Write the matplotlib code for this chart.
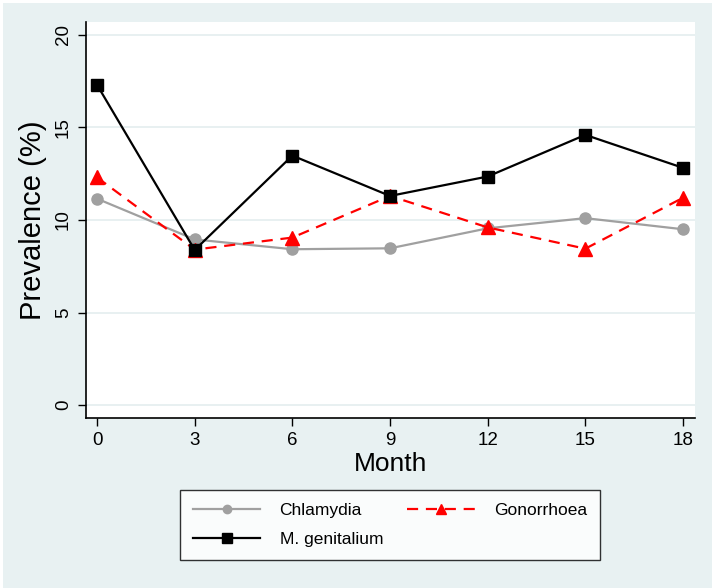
import numpy as np
import matplotlib.pyplot as plt
from matplotlib.patches import Rectangle

months = [0, 3, 6, 9, 12, 15, 18]
chlamydia = [11.15, 8.95, 8.42, 8.47, 9.55, 10.1, 9.5]
gonorrhoea = [12.3, 8.4, 9.05, 11.3, 9.6, 8.45, 11.2]
mgenitalium = [17.3, 8.38, 13.48, 11.3, 12.35, 14.6, 12.82]
yticks = [0, 5, 10, 15, 20]

plt.rcParams['font.family'] = ['Liberation Sans', 'DejaVu Sans']

bg = '#e8f1f2'
fig = plt.figure(figsize=(7.15, 5.88), dpi=100, facecolor='white')
fig.patches.append(Rectangle((3 / 715, 0), 709 / 715, 585 / 588, transform=fig.transFigure,
                             facecolor=bg, edgecolor='none', zorder=-10))

ax = fig.add_axes([86 / 715, 1 - 418 / 588, 609 / 715, 396 / 588])
ax.set_facecolor('white')

for y in yticks:
    ax.axhline(y, color='#e6eff0', lw=1.3, zorder=0)

l1, = ax.plot(months, chlamydia, color='#a0a0a0', lw=1.6, marker='o', ms=8,
              label='Chlamydia', zorder=3)
l2, = ax.plot(months, gonorrhoea, color='#ff0000', lw=1.6, ls=(0, (5, 3.5)), marker='^', ms=10,
              label='Gonorrhoea', zorder=4)
l3, = ax.plot(months, mgenitalium, color='black', lw=1.6, marker='s', ms=9,
              label='M. genitalium', zorder=5)

ax.set_xlim(-0.34, 18.37)
ax.set_ylim(-0.7, 20.7)
ax.set_xticks(months)
ax.set_yticks(yticks)
ax.tick_params(axis='both', direction='out', length=6, width=1, labelsize=13.5, pad=4)
for lab in ax.get_yticklabels():
    lab.set_rotation(90)
    lab.set_va('center')

for s in ['top', 'right']:
    ax.spines[s].set_visible(False)
for s in ['left', 'bottom']:
    ax.spines[s].set_linewidth(1.2)

ax.set_xlabel('Month', fontsize=19, labelpad=2)
ax.set_ylabel('Prevalence (%)', fontsize=21, labelpad=6)

# row-wise order like Stata: Chlamydia, Gonorrhoea / M. genitalium
leg = fig.legend([l1, l3, l2], ['Chlamydia', 'M. genitalium', 'Gonorrhoea'],
                 loc='center', bbox_to_anchor=(390 / 715, 1 - 525 / 588), ncol=2,
                 fontsize=12.5, frameon=True, fancybox=False, handlelength=3.9,
                 columnspacing=1.4, borderpad=0.75, labelspacing=0.75,
                 handletextpad=1.1, markerscale=0.75)
leg.get_frame().set_edgecolor('black')
leg.get_frame().set_linewidth(1.0)

fig.savefig('out.png', dpi=100, facecolor=fig.get_facecolor())
